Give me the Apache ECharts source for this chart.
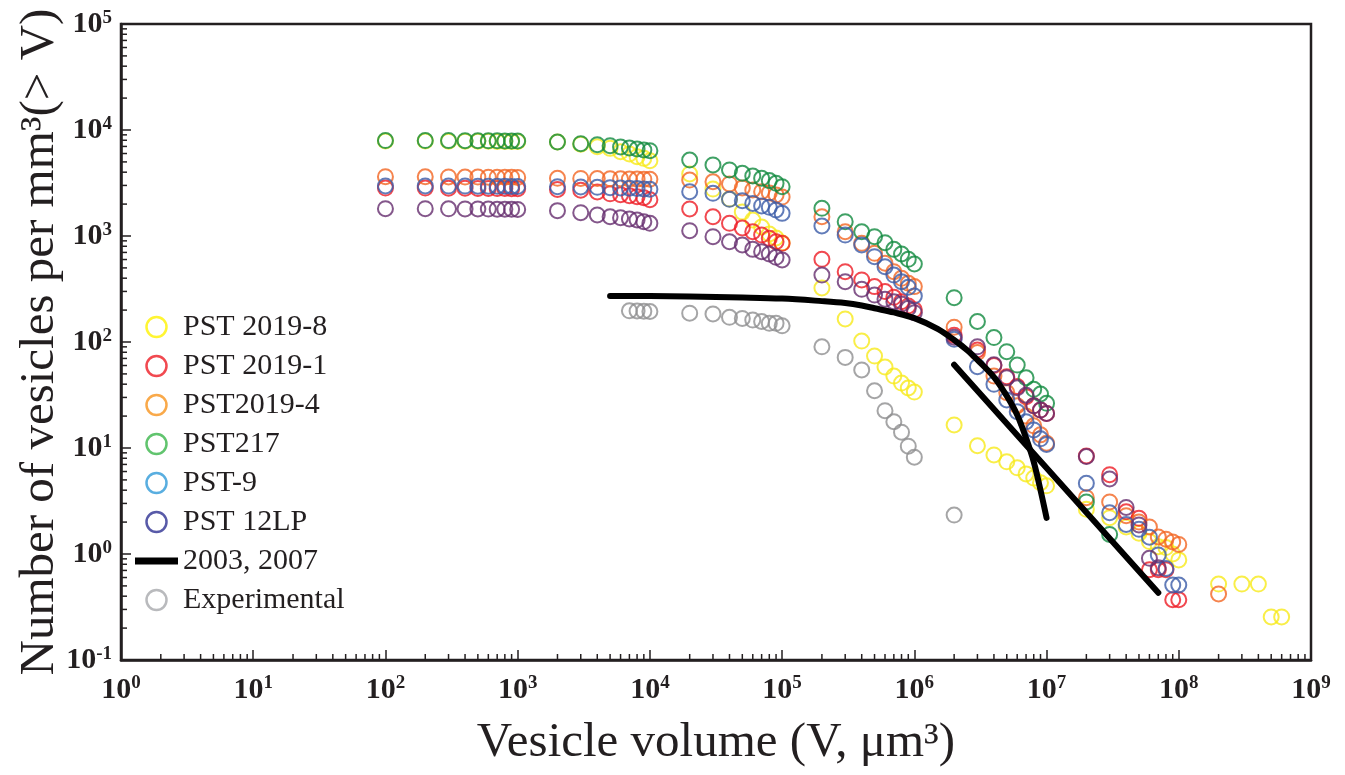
<!DOCTYPE html>
<html><head><meta charset="utf-8">
<script src="https://cdn.jsdelivr.net/npm/echarts@6/dist/echarts.min.js"></script>
<style>html,body{margin:0;padding:0;background:#fff}#c{width:1345px;height:775px}</style>
</head><body><div id="c"></div>
<script>
// ---------- DATA ----------
const volStd = [100,200,300,400,500,600,700,800,900,1000,
  2000,3000,4000,5000,6000,7000,8000,9000,1e4,
  2e4,3e4,4e4,5e4,6e4,7e4,8e4,9e4,1e5,
  2e5,3e5,4e5,5e5,6e5,7e5,8e5,9e5,1e6,
  2e6,3e6,4e6,5e6,6e6,7e6,8e6,9e6,1e7];

const yellowN = [7860,7860,7850,7840,7830,7820,7810,7800,7790,7780,
  7700,7350,6950,6710,6240,5940,5600,5400,5130,
  3850,2770,2230,1680,1415,1215,1045,958,860,
  323,165,102,73.7,58,47.7,41,36.8,33.7,
  16.5,10.5,8.6,7.4,6.5,5.7,5.2,4.7,4.4];
const yellowTailV = [2e7,3e7,4e7,5e7,6e7,7e7,8e7,9e7,1e8,2e8,3e8,4e8,5e8,6e8];
const yellowTailN = [2.64,2.2,1.8,1.57,1.31,1.17,1.15,1.0,0.88,0.52,0.52,0.52,0.255,0.255];

const redN = [2830,2830,2820,2820,2810,2810,2800,2800,2790,2790,
  2750,2700,2600,2500,2450,2400,2350,2300,2200,
  1800,1520,1318,1190,1097,1020,950,883,853,
  603,461,385,333,299,264,240,219,201,
  116,84,60,47,38,30.5,25,22.8,21.2];
const redTailV = [2e7,3e7,4e7,5e7,6e7,7e7,8e7,9e7,1e8];
const redTailN = [8.4,5.6,2.5,2.17,0.71,0.71,0.71,0.37,0.37];

const orangeN = [3630,3620,3610,3600,3600,3590,3590,3580,3580,3570,
  3500,3490,3480,3470,3460,3450,3440,3435,3430,
  3370,3250,3100,2840,2720,2620,2550,2440,2330,
  1520,1097,853,687,553,461,399,358,333,
  138,79.5,47.7,33.3,25,20,16.2,13.3,11.1];
const orangeTailV = [2e7,3e7,4e7,5e7,6e7,7e7,8e7,9e7,1e8,2e8];
const orangeTailN = [3.4,3.1,2.3,2.0,1.8,1.45,1.38,1.3,1.23,0.42];

const greenN = [7950,7950,7940,7930,7920,7910,7900,7890,7880,7870,
  7710,7430,7270,7110,6910,6760,6620,6480,6380,
  5210,4680,4200,3910,3680,3500,3330,3140,2920,
  1825,1365,1097,985,865,748,676,603,544,
  262,156,110,81,60.6,46,35.8,32.3,26.4];
const greenTailV = [2e7,3e7];
const greenTailN = [3.1,1.53];

const blueN = [2970,2970,2960,2960,2950,2950,2940,2940,2930,2930,
  2920,2900,2880,2860,2840,2820,2800,2780,2760,
  2620,2525,2220,2150,2030,1920,1865,1760,1635,
  1242,1020,822,638,513,428,371,328,272,
  106,58.5,39.9,28.4,22,17.7,14.8,12.2,10.8];
const blueTailV = [2e7,3e7,4e7,5e7,6e7,7e7,8e7,9e7,1e8];
const blueTailN = [4.65,2.45,1.9,1.71,1.44,0.98,0.73,0.51,0.51];

const purpleN = [1810,1810,1805,1800,1800,1795,1790,1790,1785,1780,
  1735,1660,1580,1520,1490,1450,1415,1365,1318,
  1122,985,883,822,748,711,676,629,594,
  428,371,314,277,253,240,228,208,189,
  111,90,61,46,37,31.5,25,22.8,21.2];
const purpleTailV = [2e7,3e7,4e7,5e7,6e7,7e7];
const purpleTailN = [8.3,5.1,2.75,1.88,0.91,0.74];

const grayV = [7000,8000,9000,1e4,
  2e4,3e4,4e4,5e4,6e4,7e4,8e4,9e4,1e5,
  2e5,3e5,4e5,5e5,6e5,7e5,8e5,9e5,1e6,2e6];
const grayN = [197,196,195,194,
  187,184,171,167,161,156,150,150,142,
  90,71.6,54.5,34.7,22.5,17.7,14.1,10.4,8.2,2.33];

const curveV = [5000,1e4,2e4,5e4,1e5,2e5,3e5,4e5,5e5,7e5,1e6,1.5e6,2e6,2.5e6,3e6,4e6,5e6,6e6,7e6,8e6,9e6,1e7];
const curveN = [272,271,268,263,257,243,233,221,208,190,168,133,104.5,84,67.7,46.7,31,20.5,12.4,7.4,4.0,2.19];
const lineV = [2e6,7e7];
const lineN = [61,0.43];

const seriesNames = ['PST 2019-8','PST 2019-1','PST2019-4','PST217','PST-9','PST 12LP','2003, 2007','Experimental'];
const plotColors = ['#f7ea1a','#ed1c24','#f26522','#108a3e','#3b5ba8','#652d6e','#000000','#8e8e90'];
const legendColors = ['#fff200','#ed1c24','#f7941d','#39b54a','#2f9ad8','#2e3192','#000000','#a7a9ac'];

const xTickDecades = [1,1e1,1e2,1e3,1e4,1e5,1e6,1e7,1e8];
const yTickDecades = [0.1,1,10,100,1000,1e4];
const minorMult = [2,3,4,5,6,7,8,9];
const X_MIN = 1, X_MAX = 1e9, Y_MIN = 0.1, Y_MAX = 1e5;

// ---------- BUILD ----------
function pairs(vs, ns){ return vs.map((v,i)=>[v, ns[i]]); }
const scatterSets = [
  pairs(volStd, yellowN).concat(pairs(yellowTailV, yellowTailN)),
  pairs(volStd, redN).concat(pairs(redTailV, redTailN)),
  pairs(volStd, orangeN).concat(pairs(orangeTailV, orangeTailN)),
  pairs(volStd, greenN).concat(pairs(greenTailV, greenTailN)),
  pairs(volStd, blueN).concat(pairs(blueTailV, blueTailN)),
  pairs(volStd, purpleN).concat(pairs(purpleTailV, purpleTailN))
];

const FONT = '"Liberation Serif","Times New Roman",serif';
const INK = '#231f20';

function scatter(name, data, color, z){
  return { type:'scatter', name, data, symbol:'circle', symbolSize:15, z,
    itemStyle:{ color:'rgba(0,0,0,0)', borderColor:color, borderWidth:2 },
    emphasis:{disabled:true}, silent:true };
}

const minorX = [], minorY = [];
xTickDecades.forEach(d => minorMult.forEach(m => minorX.push([d*m, Y_MIN])));
yTickDecades.forEach(d => minorMult.forEach(m => minorY.push([X_MIN, d*m])));

const series = [];
for (let i=0;i<6;i++) series.push(scatter(seriesNames[i], scatterSets[i], plotColors[i], 2+i));
series.push({ type:'line', name:seriesNames[6], data:pairs(curveV, curveN), smooth:0.35, symbol:'none', showSymbol:false, z:10,
  lineStyle:{color:'#000', width:6, cap:'round'}, itemStyle:{color:'#000'}, silent:true });
series.push({ type:'line', name:seriesNames[6], data:pairs(lineV, lineN), symbol:'none', showSymbol:false, z:10,
  lineStyle:{color:'#000', width:6, cap:'round'}, itemStyle:{color:'#000'}, silent:true });
series.push(scatter(seriesNames[7], pairs(grayV, grayN), plotColors[7], 9));
series.push({ type:'custom', name:'minorX', data:minorX, clip:false, silent:true, z:20,
  renderItem:(p, api)=>{ const c = api.coord([api.value(0), api.value(1)]);
    return {type:'line', shape:{x1:c[0],y1:c[1],x2:c[0],y2:c[1]-6}, style:{stroke:INK, lineWidth:1.5}}; } });
series.push({ type:'custom', name:'minorY', data:minorY, clip:false, silent:true, z:20,
  renderItem:(p, api)=>{ const c = api.coord([api.value(0), api.value(1)]);
    return {type:'line', shape:{x1:c[0],y1:c[1],x2:c[0]+6,y2:c[1]}, style:{stroke:INK, lineWidth:1.5}}; } });

const legendData = seriesNames.map((n,i)=> i===6
  ? { name:n, icon:'path://M0,0L43,0L43,7L0,7Z', itemStyle:{ color:'#000', borderWidth:0 } }
  : { name:n, icon:'circle', itemStyle:{ color:'rgba(0,0,0,0)', borderColor:legendColors[i], borderWidth:2.5 } });

function powLabel(v){
  const e = Math.round(Math.log10(v));
  return '{b|10}{e|' + e + '}';
}
const labelRich = {
  b:{ fontFamily:FONT, fontWeight:'bold', fontSize:30, color:INK, lineHeight:31, verticalAlign:'bottom' },
  e:{ fontFamily:FONT, fontWeight:'bold', fontSize:19, color:INK, lineHeight:31, verticalAlign:'top', padding:[0,0,12,0] }
};

const option = {
  backgroundColor:'#fff',
  animation:false,
  grid:{ left:121, right:34, top:24, bottom:115, show:true, borderColor:INK, borderWidth:2.5, backgroundColor:'transparent' },
  legend:{ data:legendData, orient:'vertical', left:130, top:307, itemWidth:43, itemHeight:20, itemGap:9,
    symbolKeepAspect:true,
    textStyle:{ fontFamily:FONT, fontSize:30, color:INK }, selectedMode:false },
  xAxis:{ type:'log', logBase:10, min:X_MIN, max:X_MAX, splitNumber:9,
    name:'Vesicle volume (V, μm³)', nameLocation:'middle', nameGap:59, nameMoveOverlap:false,
    nameTextStyle:{ fontFamily:FONT, fontSize:49, color:INK },
    axisLine:{ lineStyle:{ color:INK, width:2.5 } },
    axisTick:{ inside:true, length:10, lineStyle:{ color:INK, width:1.5 } },
    splitLine:{ show:false },
    axisLabel:{ formatter:powLabel, rich:labelRich, margin:14, showMinLabel:true, showMaxLabel:true }
  },
  yAxis:{ type:'log', logBase:10, min:Y_MIN, max:Y_MAX, splitNumber:6,
    name:'Number of vesicles per mm³(> V)', nameLocation:'middle', nameGap:56, nameMoveOverlap:false,
    nameTextStyle:{ fontFamily:FONT, fontSize:49, color:INK },
    axisLine:{ lineStyle:{ color:INK, width:2.5 } },
    axisTick:{ inside:true, length:10, lineStyle:{ color:INK, width:1.5 } },
    splitLine:{ show:false },
    axisLabel:{ formatter:powLabel, rich:labelRich, margin:9, showMinLabel:true, showMaxLabel:true }
  },
  series
};
const chart = echarts.init(document.getElementById('c'), null, {renderer:'canvas'});
chart.setOption(option);
</script>
</body></html>
